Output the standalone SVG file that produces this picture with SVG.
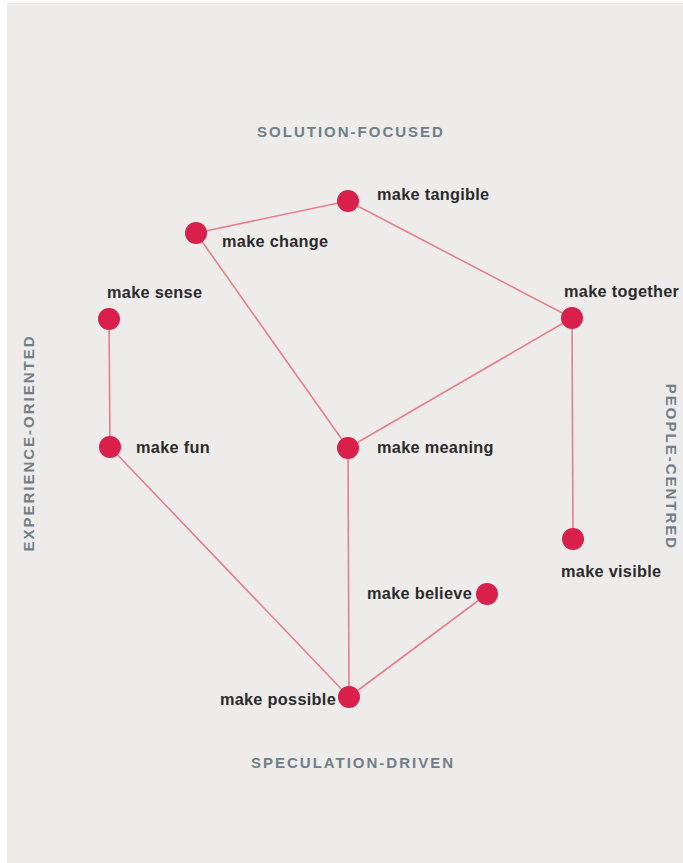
<svg xmlns="http://www.w3.org/2000/svg" width="683" height="863" viewBox="0 0 683 863">
<style>
.edge{stroke:#e57f8a;stroke-width:1.6;fill:none}
.dot{fill:#d8204a}
.lbl{font-family:"Liberation Sans",Arial,sans-serif;font-weight:bold;font-size:16.3px;letter-spacing:0.3px;fill:#2b2b2d}
.cat{font-family:"Liberation Sans",Arial,sans-serif;font-weight:bold;font-size:15px;letter-spacing:2px;fill:#6f8087;text-anchor:middle}
</style>
<rect x="0" y="0" width="683" height="863" fill="#ffffff"/>
<rect x="7" y="3" width="676" height="860" fill="#eeecea"/>
<g id="connectors">
<line class="edge" x1="196" y1="233" x2="348" y2="201"/>
<line class="edge" x1="348" y1="201" x2="572" y2="318"/>
<line class="edge" x1="196" y1="233" x2="348" y2="448"/>
<line class="edge" x1="348" y1="448" x2="572" y2="318"/>
<line class="edge" x1="572" y1="318" x2="573" y2="539"/>
<line class="edge" x1="109" y1="319" x2="110" y2="447"/>
<line class="edge" x1="110" y1="447" x2="349" y2="697"/>
<line class="edge" x1="348" y1="448" x2="349" y2="697"/>
<line class="edge" x1="349" y1="697" x2="487" y2="594"/>
</g>
<g id="make-tangible"><circle class="dot" cx="348" cy="201" r="11"/><text class="lbl" x="377" y="200">make tangible</text></g>
<g id="make-change"><circle class="dot" cx="196" cy="233" r="11"/><text class="lbl" x="222" y="247">make change</text></g>
<g id="make-together"><circle class="dot" cx="572" cy="318" r="11"/><text class="lbl" x="564" y="297">make together</text></g>
<g id="make-sense"><circle class="dot" cx="109" cy="319" r="11"/><text class="lbl" x="107" y="298">make sense</text></g>
<g id="make-fun"><circle class="dot" cx="110" cy="447" r="11"/><text class="lbl" x="136" y="453">make fun</text></g>
<g id="make-meaning"><circle class="dot" cx="348" cy="448" r="11"/><text class="lbl" x="377" y="453">make meaning</text></g>
<g id="make-visible"><circle class="dot" cx="573" cy="539" r="11"/><text class="lbl" x="561" y="577">make visible</text></g>
<g id="make-believe"><circle class="dot" cx="487" cy="594" r="11"/><text class="lbl" x="472" y="599" text-anchor="end">make believe</text></g>
<g id="make-possible"><circle class="dot" cx="349" cy="697" r="11"/><text class="lbl" x="336" y="705" text-anchor="end">make possible</text></g>
<g id="categories">
<text class="cat" x="351" y="137">SOLUTION-FOCUSED</text>
<text class="cat" x="353" y="768">SPECULATION-DRIVEN</text>
<text class="cat" transform="translate(34,443) rotate(-90)" x="0" y="0">EXPERIENCE-ORIENTED</text>
<text class="cat" transform="translate(666,467) rotate(90)" x="0" y="0">PEOPLE-CENTRED</text>
</g>
</svg>
